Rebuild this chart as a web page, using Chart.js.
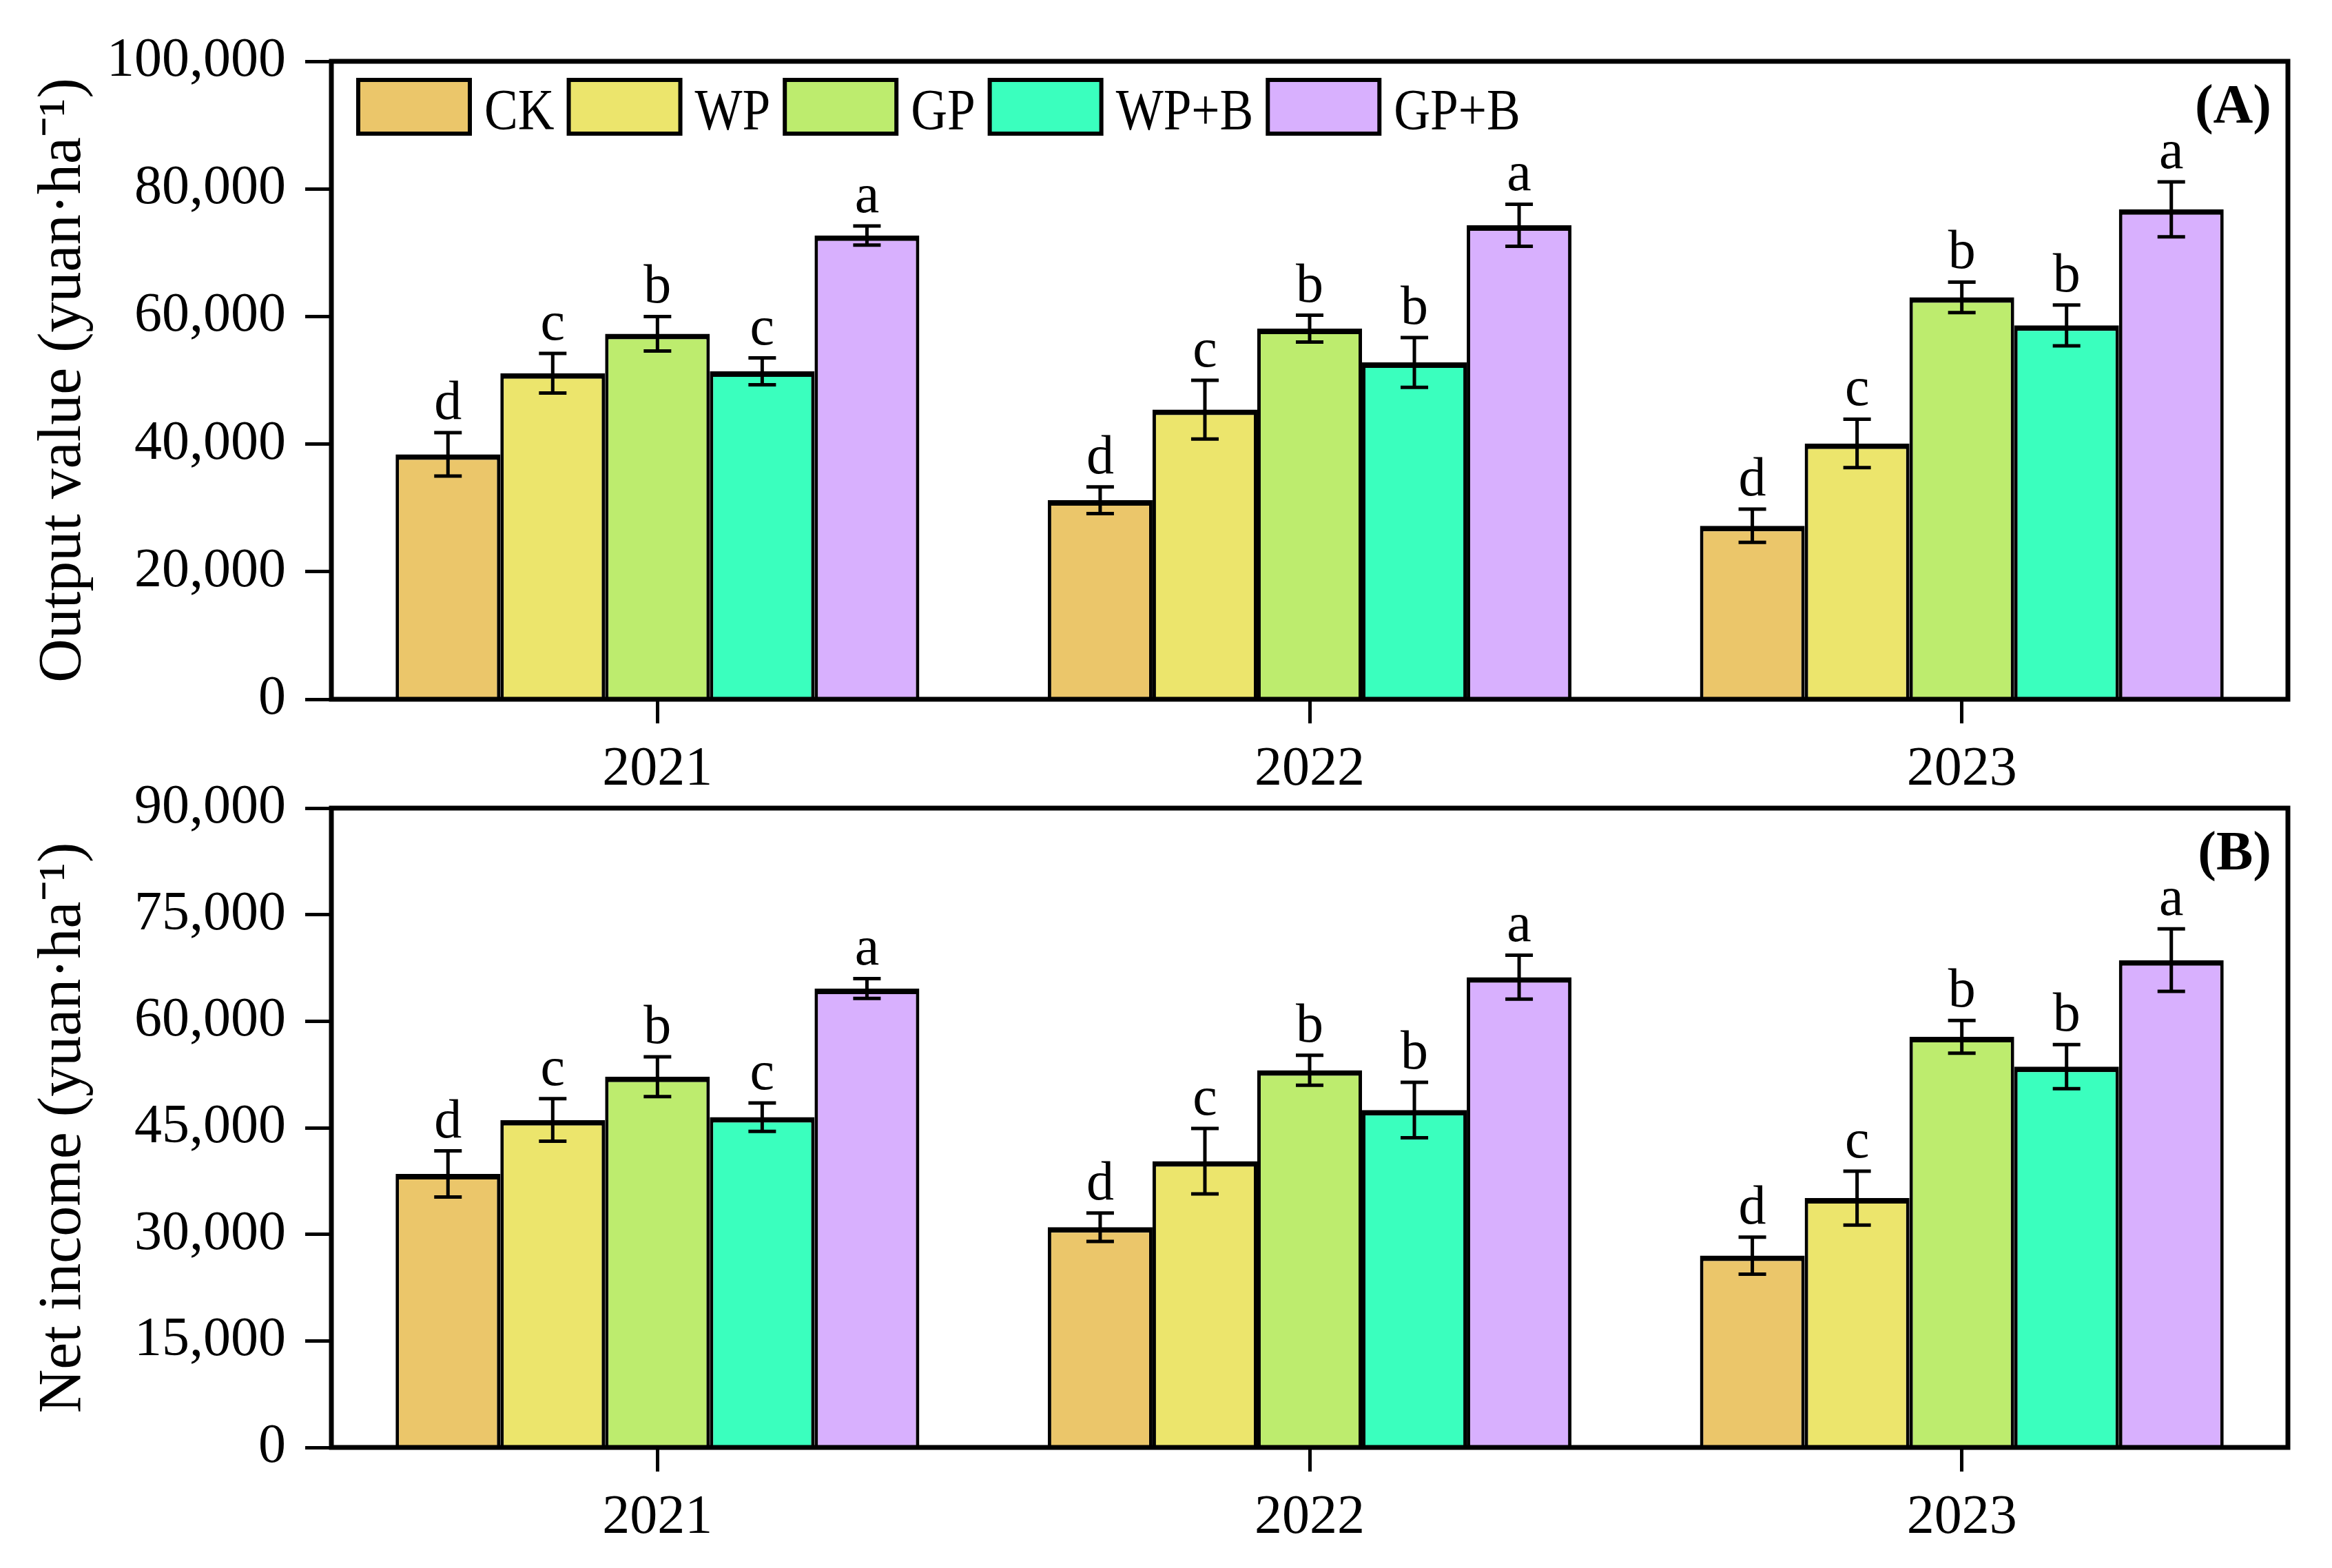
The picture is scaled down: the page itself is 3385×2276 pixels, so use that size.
<!DOCTYPE html>
<html><head><meta charset="utf-8">
<script src="https://cdn.jsdelivr.net/npm/chart.js@4.4.1/dist/chart.umd.min.js"></script>
<style>
html,body{margin:0;padding:0;background:#fff;width:3385px;height:2276px;overflow:hidden;position:relative}
canvas{position:absolute;left:0}
#cA{top:0}
#cB{top:1080px}
</style></head>
<body>
<canvas id="cA" width="3385" height="1160"></canvas>
<canvas id="cB" width="3385" height="1196"></canvas>
<script>
// ---------- data ----------
const years = ['2021', '2022', '2023'];
const treatments = ['CK', 'WP', 'GP', 'WP+B', 'GP+B'];

// Output value (yuan·ha-1)
const outCK  = [38400, 31200, 27200];
const outWP  = [51100, 45400, 40100];
const outGP  = [57300, 58100, 63000];
const outWPB = [51400, 52800, 58600];
const outGPB = [72700, 74300, 76800];
const outErrCK  = [3400, 2100, 2600];
const outErrWP  = [3100, 4600, 3800];
const outErrGP  = [2700, 2100, 2400];
const outErrWPB = [2100, 3900, 3200];
const outErrGPB = [1500, 3300, 4300];
const outLetCK  = ['d', 'd', 'd'];
const outLetWP  = ['c', 'c', 'c'];
const outLetGP  = ['b', 'b', 'b'];
const outLetWPB = ['c', 'b', 'b'];
const outLetGPB = ['a', 'a', 'a'];

// Net income (yuan·ha-1)
const netCK  = [38500, 31000, 27000];
const netWP  = [46100, 40300, 35100];
const netGP  = [52200, 53100, 57800];
const netWPB = [46500, 47500, 53600];
const netGPB = [64600, 66200, 68600];
const netErrCK  = [3250, 2000, 2600];
const netErrWP  = [3000, 4600, 3800];
const netErrGP  = [2800, 2100, 2300];
const netErrWPB = [2000, 3900, 3100];
const netErrGPB = [1400, 3100, 4400];
const netLetCK  = ['d', 'd', 'd'];
const netLetWP  = ['c', 'c', 'c'];
const netLetGP  = ['b', 'b', 'b'];
const netLetWPB = ['c', 'b', 'b'];
const netLetGPB = ['a', 'a', 'a'];

const outTicksMax = 100000, outTickStep = 20000;
const netTicksMax = 90000,  netTickStep = 15000;

// ---------- styles ----------
const colors = ['#EBC66A', '#ECE56C', '#BDEC6E', '#3AFFBE', '#D8B0FE'];
const FONT = '"Liberation Serif", "Times New Roman", serif';
Chart.defaults.font.family = FONT;
Chart.defaults.color = '#000';

const errPlugin = {
  id: 'errLetters',
  afterDatasetsDraw(chart) {
    const ctx = chart.ctx, y = chart.scales.y;
    ctx.save();
    ctx.strokeStyle = '#000';
    ctx.lineWidth = 5;
    ctx.fillStyle = '#000';
    ctx.font = '80px ' + FONT;
    ctx.textAlign = 'center';
    ctx.textBaseline = 'alphabetic';
    chart.data.datasets.forEach((ds, i) => {
      const meta = chart.getDatasetMeta(i);
      meta.data.forEach((bar, j) => {
        const v = ds.data[j], e = ds.errors[j];
        const x = bar.x;
        const yt = y.getPixelForValue(v + e), yb = y.getPixelForValue(v - e);
        ctx.beginPath();
        ctx.moveTo(x, yt); ctx.lineTo(x, yb);
        ctx.moveTo(x - 20, yt); ctx.lineTo(x + 20, yt);
        ctx.moveTo(x - 20, yb); ctx.lineTo(x + 20, yb);
        ctx.stroke();
        ctx.fillText(ds.letters[j], x, yt - 20);
      });
    });
    ctx.restore();
  }
};

const framePlugin = {
  id: 'frame',
  afterDraw(chart, args, o) {
    const {ctx, chartArea: a} = chart;
    ctx.save();
    ctx.lineWidth = 7;
    ctx.strokeStyle = '#000';
    ctx.strokeRect(a.left, a.top, a.right - a.left, a.bottom - a.top);
    ctx.fillStyle = '#000';
    ctx.font = 'bold 80px ' + FONT;
    ctx.textAlign = 'right';
    ctx.textBaseline = 'top';
    ctx.fillText(o.text, a.right - 24, a.top + 28);
    // legend inside the plot area (top-left)
    if (o.legend) {
      let x = a.left + 36;
      const top = a.top + 24, bw = 168, bh = 84;
      ctx.font = '85px ' + FONT;
      ctx.textAlign = 'left';
      ctx.textBaseline = 'alphabetic';
      chart.data.datasets.forEach(ds => {
        ctx.fillStyle = ds.backgroundColor;
        ctx.fillRect(x + 3, top + 3, bw - 6, bh - 6);
        ctx.lineWidth = 6;
        ctx.strokeStyle = '#000';
        ctx.strokeRect(x + 3, top + 3, bw - 6, bh - 6);
        const tx = x + bw + 18;
        const sx = 0.86;
        ctx.save();
        ctx.translate(tx, top + 75);
        ctx.scale(sx, 1);
        ctx.fillStyle = '#000';
        ctx.fillText(ds.label, 0, 0);
        ctx.restore();
        x = tx + ctx.measureText(ds.label).width * sx + 18;
      });
    }
    ctx.restore();
  }
};

function build(id, vals, errs, lets, yMax, yStep, title, panel, showLegend, xHeight, padTop) {
  const datasets = treatments.map((t, i) => ({
    label: t,
    data: vals[i],
    errors: errs[i],
    letters: lets[i],
    backgroundColor: colors[i],
    borderColor: '#000',
    borderWidth: {top: 8, left: 5, right: 5, bottom: 0},
    categoryPercentage: 0.803,
    barPercentage: 1
  }));
  return new Chart(document.getElementById(id), {
    type: 'bar',
    data: {labels: years, datasets},
    plugins: [errPlugin, framePlugin],
    options: {
      responsive: false,
      animation: false,
      devicePixelRatio: 1,
      layout: {padding: {top: padTop, right: 64, bottom: 0, left: 0}},
      plugins: {
        tooltip: {enabled: false},
        legend: {display: false},
        frame: {text: panel, legend: showLegend}
      },
      scales: {
        x: {
          offset: true,
          grid: {offset: false, drawOnChartArea: false, drawTicks: true, tickLength: 35, color: '#000', lineWidth: 5},
          border: {display: false},
          ticks: {color: '#000', font: {size: 80, family: FONT}, padding: 20},
          afterFit(s) { s.height = xHeight; }
        },
        y: {
          min: 0, max: yMax,
          grid: {drawOnChartArea: false, drawTicks: true, tickLength: 38, color: '#000', lineWidth: 5},
          border: {display: false},
          ticks: {stepSize: yStep, color: '#000', font: {size: 80, family: FONT}, padding: 28},
          title: {display: true, text: title, color: '#000', font: {size: 88, family: FONT}, padding: {top: 40, bottom: 0}},
          afterFit(s) { s.width = 481; }
        }
      }
    }
  });
}

build('cA',
  [outCK, outWP, outGP, outWPB, outGPB],
  [outErrCK, outErrWP, outErrGP, outErrWPB, outErrGPB],
  [outLetCK, outLetWP, outLetGP, outLetWPB, outLetGPB],
  outTicksMax, outTickStep, 'Output value (yuan·ha⁻¹)', '(A)', true, 145, 89);

build('cB',
  [netCK, netWP, netGP, netWPB, netGPB],
  [netErrCK, netErrWP, netErrGP, netErrWPB, netErrGPB],
  [netLetCK, netLetWP, netLetGP, netLetWPB, netLetGPB],
  netTicksMax, netTickStep, 'Net income (yuan·ha⁻¹)', '(B)', false, 175, 93);
</script>
</body></html>
